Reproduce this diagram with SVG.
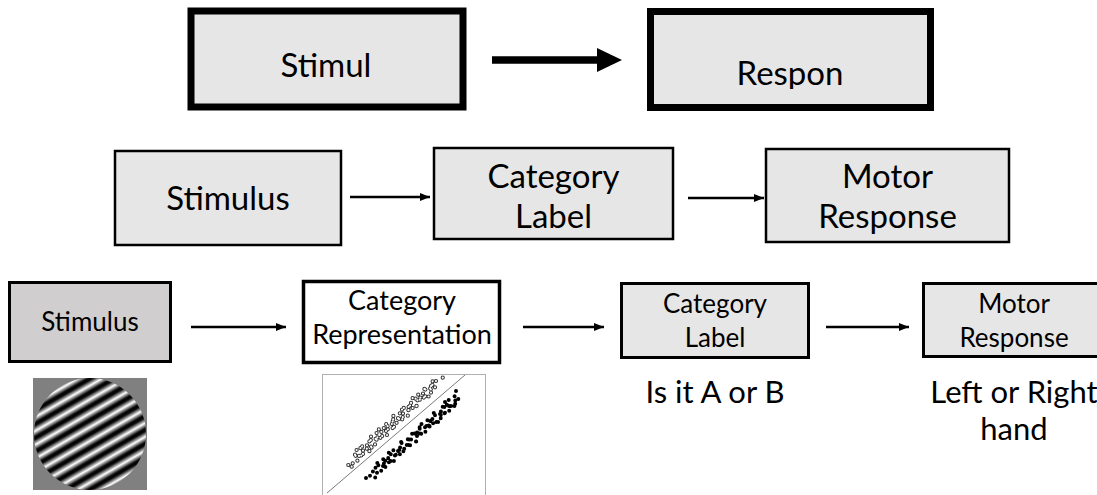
<svg xmlns="http://www.w3.org/2000/svg" width="1097" height="495" viewBox="0 0 1097 495">
  <defs>
    <style>
      .box { fill: #e7e6e6; stroke: #000; }
      .thick { stroke-width: 7; }
      .mid { stroke-width: 2.5; }
      .thin3 { stroke-width: 3; }
      .lbl { font-family: Lato, "Open Sans", sans-serif; fill: #000; text-anchor: middle; }
      .t1 { font-size: 33px; }
      .t2 { font-size: 33px; }
      .t3 { font-size: 26px; }
      .t4 { font-size: 31px; }
      .conn { stroke: #000; fill: none; }
      .dots { fill: none; stroke-linecap: round; }
    </style>
    <marker id="headS" viewBox="0 0 10 8" refX="10" refY="4" markerWidth="10" markerHeight="8" markerUnits="userSpaceOnUse" orient="auto">
      <path d="M0 0 L10 4 L0 8 Z" fill="#000"/>
    </marker>
    <linearGradient id="stripes" gradientUnits="userSpaceOnUse" x1="90" y1="434" x2="96" y2="444.4" spreadMethod="repeat">
      <stop offset="0" stop-color="#000"/>
      <stop offset="0.12" stop-color="#111"/>
      <stop offset="0.5" stop-color="#fff"/>
      <stop offset="0.88" stop-color="#111"/>
      <stop offset="1" stop-color="#000"/>
    </linearGradient>
    <clipPath id="responClip">
      <rect x="650" y="10" width="280" height="79"/>
    </clipPath>
    <!-- open-circle sample positions, drawn twice (ring, then centre) -->
    <path id="openPts" d="M357.4 460.7h0M355 454.7h0M359 455.9h0M356.6 450h0M363 453.9h0M363 450.6h0M362.2 446.4h0M369.4 451.2h0M367 445.3h0M371 446.5h0M369.4 441.4h0M375 444.4h0M371 436.6h0M376.6 439.7h0M377.4 437.3h0M376.6 433.1h0M382.2 436.1h0M381.4 431.9h0M387 435h0M383.8 428.1h0M387.8 429.3h0M386.2 424.2h0M392.6 428.1h0M391.8 424h0M392.6 421.6h0M396.6 422.8h0M393.4 415.9h0M399 418.9h0M402.2 419.3h0M399.8 413.3h0M403 413.6h0M407.8 415.7h0M403.8 407.9h0M408.6 410.1h0M408.6 406.8h0M412.6 408h0M411 402.9h0M416.6 405.9h0M412.6 398.2h0M417.4 400.3h0M419.8 399.7h0M418.2 394.6h0M423.8 397.6h0M423 393.5h0M428.6 396.5h0M425.4 389.6h0M431 392.6h0M430.2 388.4h0M431 386.1h0M435 387.3h0M432.6 381.3h0M355.6 455.8h0M361.2 455.5h0M360.4 448.1h0M366.8 448.7h0M371.6 447.6h0M370.8 440.1h0M375.6 438.9h0M380.4 437.8h0M378.8 429.4h0M386 431h0M387.6 426.2h0M394 426.8h0M393.2 419.4h0M398 418.2h0M402.8 417.1h0M402 409.6h0M408.4 410.2h0M410 405.5h0M416.4 406.1h0M415.6 398.7h0M420.4 397.5h0M425.2 396.3h0M424.4 388.9h0M430.8 389.5h0M432.4 384.8h0M348.3 465h0M351.7 466.7h0M352.7 463.3h0M436 381h0M442.7 377.7h0"/>
  </defs>

  <!-- top row -->
  <g id="stimul">
    <rect class="box thick" x="191" y="11" width="272" height="96"/>
    <text class="lbl t1" x="326" y="77">Stimul</text>
  </g>
  <g id="respon">
    <rect class="box thick" x="650.5" y="11.5" width="280" height="96"/>
    <text class="lbl t1" x="790" y="85" clip-path="url(#responClip)">Respon</text>
  </g>

  <!-- second row -->
  <g id="stimulus2">
    <rect class="box mid" x="115" y="151" width="226" height="94"/>
    <text class="lbl t2" x="228" y="210">Stimulus</text>
  </g>
  <g id="categoryLabel2">
    <rect class="box mid" x="434" y="148" width="239" height="91"/>
    <text class="lbl t2" x="553.5" y="188">Category</text>
    <text class="lbl t2" x="553.5" y="228">Label</text>
  </g>
  <g id="motorResponse2">
    <rect class="box mid" x="766" y="149" width="243" height="93"/>
    <text class="lbl t2" x="887.5" y="188">Motor</text>
    <text class="lbl t2" x="887.5" y="228">Response</text>
  </g>

  <!-- third row -->
  <g id="stimulus3">
    <rect class="box thin3" x="9.5" y="282.5" width="161" height="79" style="fill:#d0cece"/>
    <text class="lbl t3" x="90" y="331">Stimulus</text>
  </g>
  <g id="categoryRepresentation">
    <rect class="box thin3" x="303.5" y="281.5" width="196" height="81" style="fill:#fff;stroke-width:3.5"/>
    <text class="lbl t3" x="402" y="310" style="font-size:27px">Category</text>
    <text class="lbl t3" x="402" y="344" style="font-size:27px">Representation</text>
  </g>
  <g id="categoryLabel3">
    <rect class="box thin3" x="621.5" y="283.5" width="187" height="74"/>
    <text class="lbl t3" x="715" y="313">Category</text>
    <text class="lbl t3" x="715" y="347">Label</text>
    <text class="lbl t4" x="715" y="403">Is it A or B</text>
  </g>
  <g id="motorResponse3">
    <rect class="box thin3" x="923.5" y="283.5" width="190" height="73"/>
    <text class="lbl t3" x="1014" y="313">Motor</text>
    <text class="lbl t3" x="1014" y="347">Response</text>
    <text class="lbl t4" x="1014" y="403">Left or Right</text>
    <text class="lbl t4" x="1014" y="440">hand</text>
  </g>

  <!-- grating stimulus -->
  <g id="grating">
    <rect x="33" y="378" width="114" height="112" fill="#808080"/>
    <circle cx="90" cy="434" r="56" fill="url(#stripes)"/>
  </g>

  <!-- two-category scatter -->
  <g id="scatter">
    <rect x="322.5" y="374.5" width="163" height="130" fill="#fff" stroke="#b0b0b0" stroke-width="1"/>
    <line x1="327" y1="493" x2="465" y2="375" stroke="#7a7a7a" stroke-width="1"/>
    <!-- filled points -->
    <path class="dots" stroke="#000" stroke-width="4" transform="translate(0,4)" d="M375.2 473.6h0M372.9 467.6h0M377 468.8h0M375.5 463.7h0M381.2 466.7h0M377.3 458.9h0M383 461.9h0M383.9 459.5h0M383.2 455.3h0M388.9 458.3h0M388.2 454.1h0M393.9 457.1h0M390.8 450.2h0M394.9 451.4h0M393.4 446.3h0M399.9 450.2h0M399.2 446h0M400.1 443.6h0M404.2 444.8h0M401.1 437.9h0M406.8 440.9h0M410.1 441.2h0M407.8 435.2h0M411.1 435.5h0M416 437.6h0M412.1 429.8h0M417 431.9h0M417.1 428.6h0M421.2 429.8h0M419.7 424.7h0M425.4 427.7h0M421.5 419.9h0M426.4 422h0M428.9 421.4h0M427.4 416.3h0M433.1 419.3h0M432.4 415.1h0M438.1 418.1h0M435 411.2h0M440.7 414.2h0M440 410h0M440.9 407.6h0M445 408.8h0M442.7 402.8h0M449.2 406.7h0M446.9 400.7h0M451 401.9h0M448.7 395.9h0M455.2 399.8h0M455.3 396.5h0M454.6 392.3h0M378.4 461.2h0M385.4 463.1h0M385.2 456.8h0M390.6 456.9h0M388.8 448.8h0M395.8 450.7h0M398 447.1h0M403.4 447.2h0M401.6 439.1h0M408.6 441h0M409.2 435.6h0M416.2 437.5h0M414.4 429.4h0M419.8 429.5h0M419.6 423.2h0M425 423.3h0M429.6 422.4h0M430.2 417.1h0M436.4 418h0M433.8 409.1h0M440.8 410.9h0M444.6 409.2h0M444.4 402.9h0M449 402.1h0M454.4 402.1h0M370 471.7h0M366 474h0M445 398h0M458.3 395h0M456 387h0"/>
    <!-- open points -->
    <use href="#openPts" class="dots" stroke="#333" stroke-width="4.2"/>
    <use href="#openPts" class="dots" stroke="#fff" stroke-width="2.2"/>
  </g>

  <!-- connectors -->
  <g id="connectors" class="conn">
    <line x1="492" y1="60" x2="599" y2="60" stroke-width="7.5"/>
    <polygon points="597,48 622,60 597,72" fill="#000" stroke="none"/>
    <line x1="350" y1="197" x2="430" y2="197" stroke-width="2.5" marker-end="url(#headS)"/>
    <line x1="688" y1="198" x2="764" y2="198" stroke-width="2.5" marker-end="url(#headS)"/>
    <line x1="191" y1="327" x2="286" y2="327" stroke-width="2.5" marker-end="url(#headS)"/>
    <line x1="523" y1="327" x2="604" y2="327" stroke-width="2.5" marker-end="url(#headS)"/>
    <line x1="826" y1="327" x2="909" y2="327" stroke-width="2.5" marker-end="url(#headS)"/>
  </g>
</svg>
